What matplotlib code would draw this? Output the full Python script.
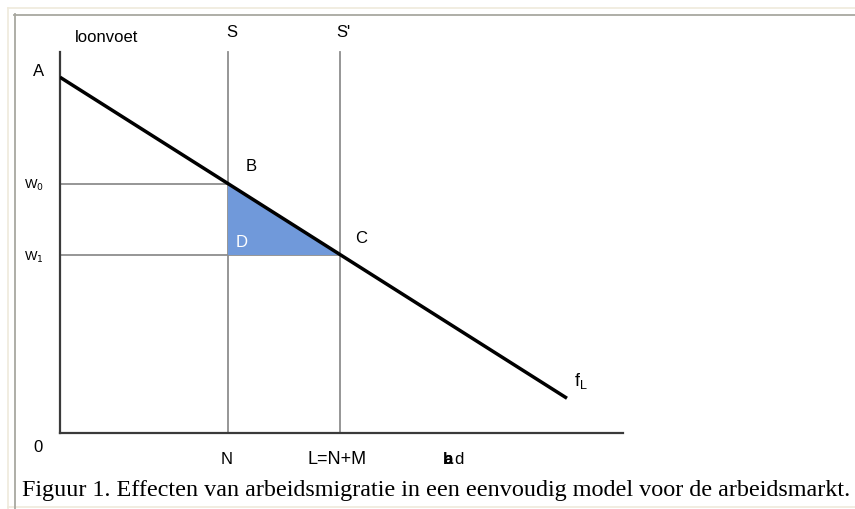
import matplotlib
matplotlib.use("Agg")
import matplotlib.pyplot as plt
from matplotlib.lines import Line2D
from matplotlib.patches import Polygon

plt.rcParams['font.family'] = ['Liberation Sans', 'DejaVu Sans']

# labour market model values (axis units)
N = 3.0          # native labour supply S
L = 5.0          # supply after migration S' (L = N + M)
w0 = 4.45        # wage before migration
w1 = 3.18        # wage after migration
fL_x = [0.0, 9.05]   # demand curve end points
fL_y = [6.35, 0.62]
x_max = 10.05
y_max = 6.8

W, H = 855, 509
fig = plt.figure(figsize=(W / 100, H / 100), dpi=100)
fig.patch.set_facecolor('white')

# page-like frame
def fline(xs, ys, color, lw):
    fig.add_artist(Line2D([x / W for x in xs], [1 - y / H for y in ys],
                          transform=fig.transFigure, color=color, lw=lw))

fline([8, 8], [8, 509], '#efeadb', 1.2)
fline([8, 855], [8, 8], '#efeadb', 1.2)
fline([8, 855], [507, 507], '#efeadb', 1.2)
fline([14.5, 14.5], [14, 509], '#a8a8a0', 1.3)
fline([14, 855], [14.5, 14.5], '#a8a8a0', 1.3)

ax = fig.add_axes([60 / W, (H - 433) / H, 563 / W, 381 / H])
ax.set_xlim(0, x_max)
ax.set_ylim(0, y_max)
for side in ['top', 'right']:
    ax.spines[side].set_visible(False)
for side in ['left', 'bottom']:
    ax.spines[side].set_color('#3a3a3a')
    ax.spines[side].set_linewidth(1.6)
ax.set_xticks([])
ax.set_yticks([])
ax.patch.set_alpha(0)

grey = '#8e8e8e'
ax.plot([N, N], [0, y_max], color=grey, lw=1.3, clip_on=False)
ax.plot([L, L], [0, y_max], color=grey, lw=1.3, clip_on=False)
ax.plot([0, N], [w0, w0], color=grey, lw=1.3)
ax.plot([0, L], [w1, w1], color=grey, lw=1.3)

ax.add_patch(Polygon([(N, w0), (N, w1), (L, w1)], closed=True,
                     facecolor='#7099da', edgecolor='none', zorder=2))

ax.plot(fL_x, fL_y, color='black', lw=2.5, solid_capstyle='butt', zorder=3)

fs = 12
def lab(txt, xy, dx, dy, **kw):
    ax.annotate(txt, xy=xy, xytext=(dx, -dy), textcoords='offset pixels',
                ha='center', va='center', fontsize=kw.pop('size', fs),
                annotation_clip=False, **kw)

lab('loonvoet', (0, y_max), 47, -15)
lab('S', (N, y_max), 4, -20)
lab("S'", (L, y_max), 3, -20)
lab('A', (0, fL_y[0]), -21, -6)
lab('B', (N, w0), 23, -17)
lab('C', (L, w1), 21, -16)
lab('D', (N, w1), 14, -12, color='white')
lab(r'W$_0$', (0, w0), -26, 2, size=9.5)
lab(r'W$_1$', (0, w1), -26, 3, size=9.5)
lab('0', (0, 0), -22, 14)
lab('N', (N, 0), -1, 27)
lab('L=N+M', (L, 0), -3, 27, size=13)
lab('b', (7.0, 0), -4, 27, weight='bold')
lab('a', (7.0, 0), -4, 27, weight='bold')
lab('d', (7.0, 0), 7, 27)
lab(r'f$_\mathregular{L}$', (fL_x[1], fL_y[1]), 14, -17, size=13)

fig.text(22 / W, 1 - 496 / H,
         'Figuur 1. Effecten van arbeidsmigratie in een eenvoudig model voor de arbeidsmarkt.',
         family='Liberation Serif', fontsize=17.4, ha='left', va='baseline')

fig.savefig('out.png', dpi=100)
